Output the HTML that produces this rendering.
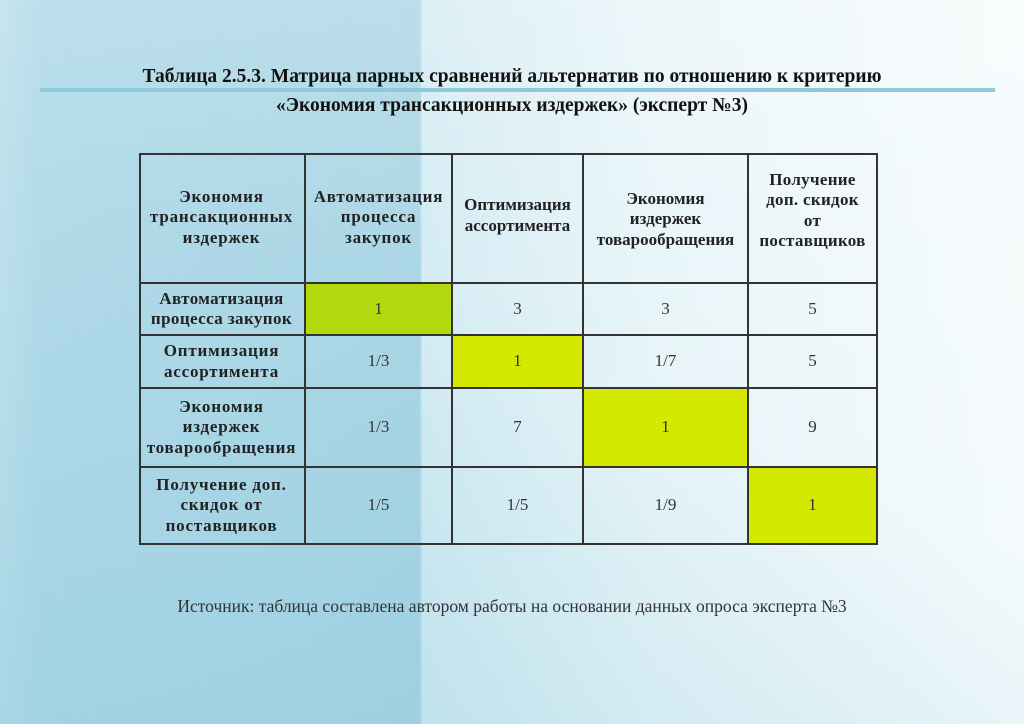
<!DOCTYPE html>
<html><head><meta charset="utf-8"><style>
body{margin:0;width:1024px;height:724px;overflow:hidden;position:relative;font-family:"Liberation Serif","DejaVu Serif",serif;
background:linear-gradient(90deg,#bfe1ec 0px,#b3dbe9 40px,#acd7e6 300px,#a9d5e4 420px,#d3ebf3 422px,#e6f4f8 650px,#f4fafc 1024px);}
.shade{position:absolute;left:0;top:0;width:1024px;height:724px;background:linear-gradient(200deg,rgba(255,255,255,0.35) 0%,rgba(255,255,255,0) 50%,rgba(120,190,215,0.3) 100%);}
.t{position:absolute;left:0;width:1024px;text-align:center;font-weight:bold;font-size:19.5px;color:#111;}
.line{position:absolute;left:40px;top:88px;width:955px;height:4px;background:#8ec9dc;}
.c{position:absolute;display:flex;align-items:center;justify-content:center;text-align:center;font-size:17px;color:#333;box-sizing:border-box;border-right:2px solid #333;border-bottom:2px solid #333;line-height:1.2}
.h{font-weight:bold;font-size:17px;color:#222;letter-spacing:0.8px}
.g1{background:#b4d80e}.g2{background:#d4e800}
</style></head><body>
<div class="shade"></div>
<div class="t" style="top:66px">Таблица 2.5.3. Матрица парных сравнений альтернатив по отношению к критерию</div>
<div class="line"></div>
<div class="t" style="top:95px">«Экономия трансакционных издержек» (эксперт №3)</div>
<div style="position:absolute;left:139px;top:153px;width:739px;height:392px;border-left:2px solid #333;border-top:2px solid #333;box-sizing:border-box"></div>
<div class="c h" style="left:139px;top:153px;width:167px;height:131px">Экономия<br>трансакционных<br>издержек</div>
<div class="c h" style="left:306px;top:153px;width:147px;height:131px;align-items:flex-start;padding-top:34px">Автоматизация<br>процесса<br>закупок</div>
<div class="c h" style="left:453px;top:153px;width:131px;height:131px;padding-bottom:4px;letter-spacing:0">Оптимизация<br>ассортимента</div>
<div class="c h" style="left:584px;top:153px;width:165px;height:131px;padding-top:4px;letter-spacing:0">Экономия<br>издержек<br>товарообращения</div>
<div class="c h" style="left:749px;top:153px;width:129px;height:131px;padding-bottom:14px;letter-spacing:0.3px">Получение<br>доп. скидок<br>от<br>поставщиков</div>
<div class="c h" style="left:139px;top:284px;width:167px;height:52px;letter-spacing:0.4px">Автоматизация<br>процесса закупок</div>
<div class="c g1" style="left:306px;top:284px;width:147px;height:52px">1</div>
<div class="c" style="left:453px;top:284px;width:131px;height:52px">3</div>
<div class="c" style="left:584px;top:284px;width:165px;height:52px">3</div>
<div class="c" style="left:749px;top:284px;width:129px;height:52px">5</div>
<div class="c h" style="left:139px;top:336px;width:167px;height:53px">Оптимизация<br>ассортимента</div>
<div class="c" style="left:306px;top:336px;width:147px;height:53px">1/3</div>
<div class="c g2" style="left:453px;top:336px;width:131px;height:53px">1</div>
<div class="c" style="left:584px;top:336px;width:165px;height:53px">1/7</div>
<div class="c" style="left:749px;top:336px;width:129px;height:53px">5</div>
<div class="c h" style="left:139px;top:389px;width:167px;height:79px">Экономия<br>издержек<br>товарообращения</div>
<div class="c" style="left:306px;top:389px;width:147px;height:79px">1/3</div>
<div class="c" style="left:453px;top:389px;width:131px;height:79px">7</div>
<div class="c g2" style="left:584px;top:389px;width:165px;height:79px">1</div>
<div class="c" style="left:749px;top:389px;width:129px;height:79px">9</div>
<div class="c h" style="left:139px;top:468px;width:167px;height:77px">Получение доп.<br>скидок от<br>поставщиков</div>
<div class="c" style="left:306px;top:468px;width:147px;height:77px">1/5</div>
<div class="c" style="left:453px;top:468px;width:131px;height:77px">1/5</div>
<div class="c" style="left:584px;top:468px;width:165px;height:77px">1/9</div>
<div class="c g2" style="left:749px;top:468px;width:129px;height:77px">1</div>
<div style="position:absolute;left:0;width:1024px;top:596px;text-align:center;font-size:17.5px;color:#333">Источник: таблица составлена автором работы на основании данных опроса эксперта №3</div>
</body></html>
